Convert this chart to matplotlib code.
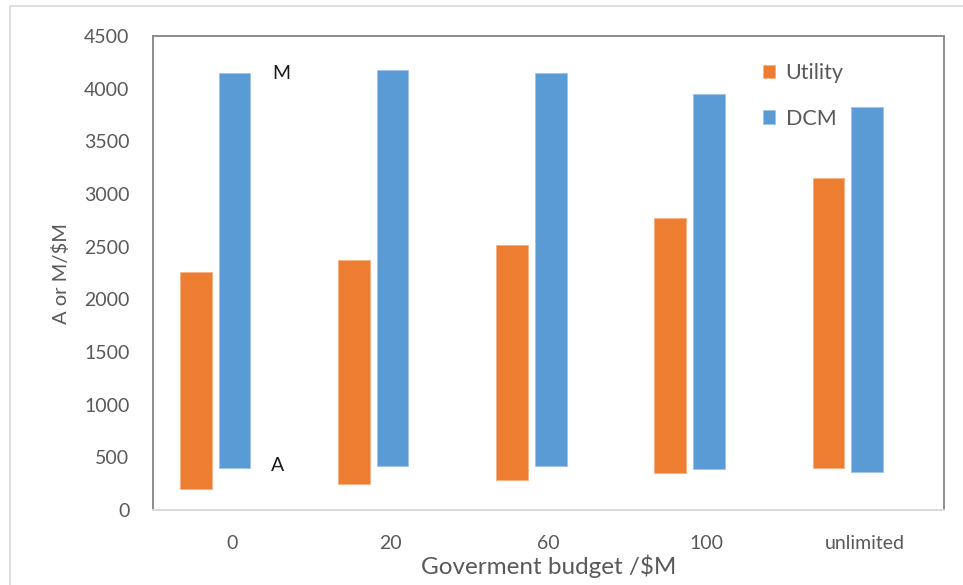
import numpy as np
import matplotlib.pyplot as plt
from matplotlib.patches import Rectangle

# budget categories and floating bar ranges (A = bottom, M = top)
budgets = ['0', '20', '60', '100', 'unlimited']
utility_A = [200, 245, 285, 350, 400]
utility_M = [2260, 2375, 2515, 2775, 3155]
dcm_A = [400, 420, 420, 385, 365]
dcm_M = [4150, 4175, 4145, 3950, 3830]

orange = '#ed7d31'
blue = '#5b9bd5'
grey_txt = '#595959'

plt.rcParams['font.family'] = ['Lato', 'DejaVu Sans']

fig = plt.figure(figsize=(9.63, 5.85), dpi=100)
ax = fig.add_axes([153 / 963, 1 - 510 / 585, (944 - 153) / 963, (510 - 36) / 585])

# light outer chart border
fig.patches.append(Rectangle((10 / 963, -0.1), 1.2, 1 - 6 / 585 + 0.1,
                             transform=fig.transFigure, fill=False,
                             edgecolor='#d9d9d9', linewidth=1.2))

x = np.arange(len(budgets))
bar_w = 0.2
ua = np.array(utility_A)
um = np.array(utility_M)
da = np.array(dcm_A)
dm = np.array(dcm_M)

ax.bar(x - 0.23, um - ua, bar_w, bottom=ua, color=orange,
       edgecolor='#f4b183', linewidth=0.6, label='Utility')
ax.bar(x + 0.015, dm - da, bar_w, bottom=da, color=blue,
       edgecolor='#9dc3e6', linewidth=0.6, label='DCM')

ax.set_xlim(-0.5, len(budgets) - 0.5)
ax.set_ylim(0, 4500)
ax.set_yticks(np.arange(0, 4501, 500))
ax.set_xticks(x)
ax.set_xticklabels(budgets)
ax.tick_params(axis='both', length=0, labelsize=14, colors=grey_txt)
ax.tick_params(axis='y', pad=17)
ax.tick_params(axis='x', pad=18)

for side in ['left', 'top', 'right']:
    ax.spines[side].set_color('#8c8c8c')
    ax.spines[side].set_linewidth(1.4)
ax.spines['bottom'].set_color('#d9d9d9')
ax.spines['bottom'].set_linewidth(1.4)

ax.set_xlabel('Goverment budget /$M', fontsize=17.5, color=grey_txt, labelpad=2)
ax.set_ylabel('A or M/$M', fontsize=14.5, color=grey_txt, labelpad=10)

ax.text(0.31, 4140, 'M', fontsize=14, color='#1a1a1a', ha='center', va='center')
ax.text(0.29, 427, 'A', fontsize=14, color='#1a1a1a', ha='center', va='center')

leg = ax.legend(loc='upper left', bbox_to_anchor=(763 / 963, 1 - 63 / 585),
                bbox_transform=fig.transFigure, frameon=False,
                borderpad=0, borderaxespad=0,
                handlelength=0.55, handleheight=0.6, handletextpad=0.5,
                labelspacing=1.2, fontsize=15.5)
for t in leg.get_texts():
    t.set_color(grey_txt)

fig.savefig('out.png', dpi=100)
